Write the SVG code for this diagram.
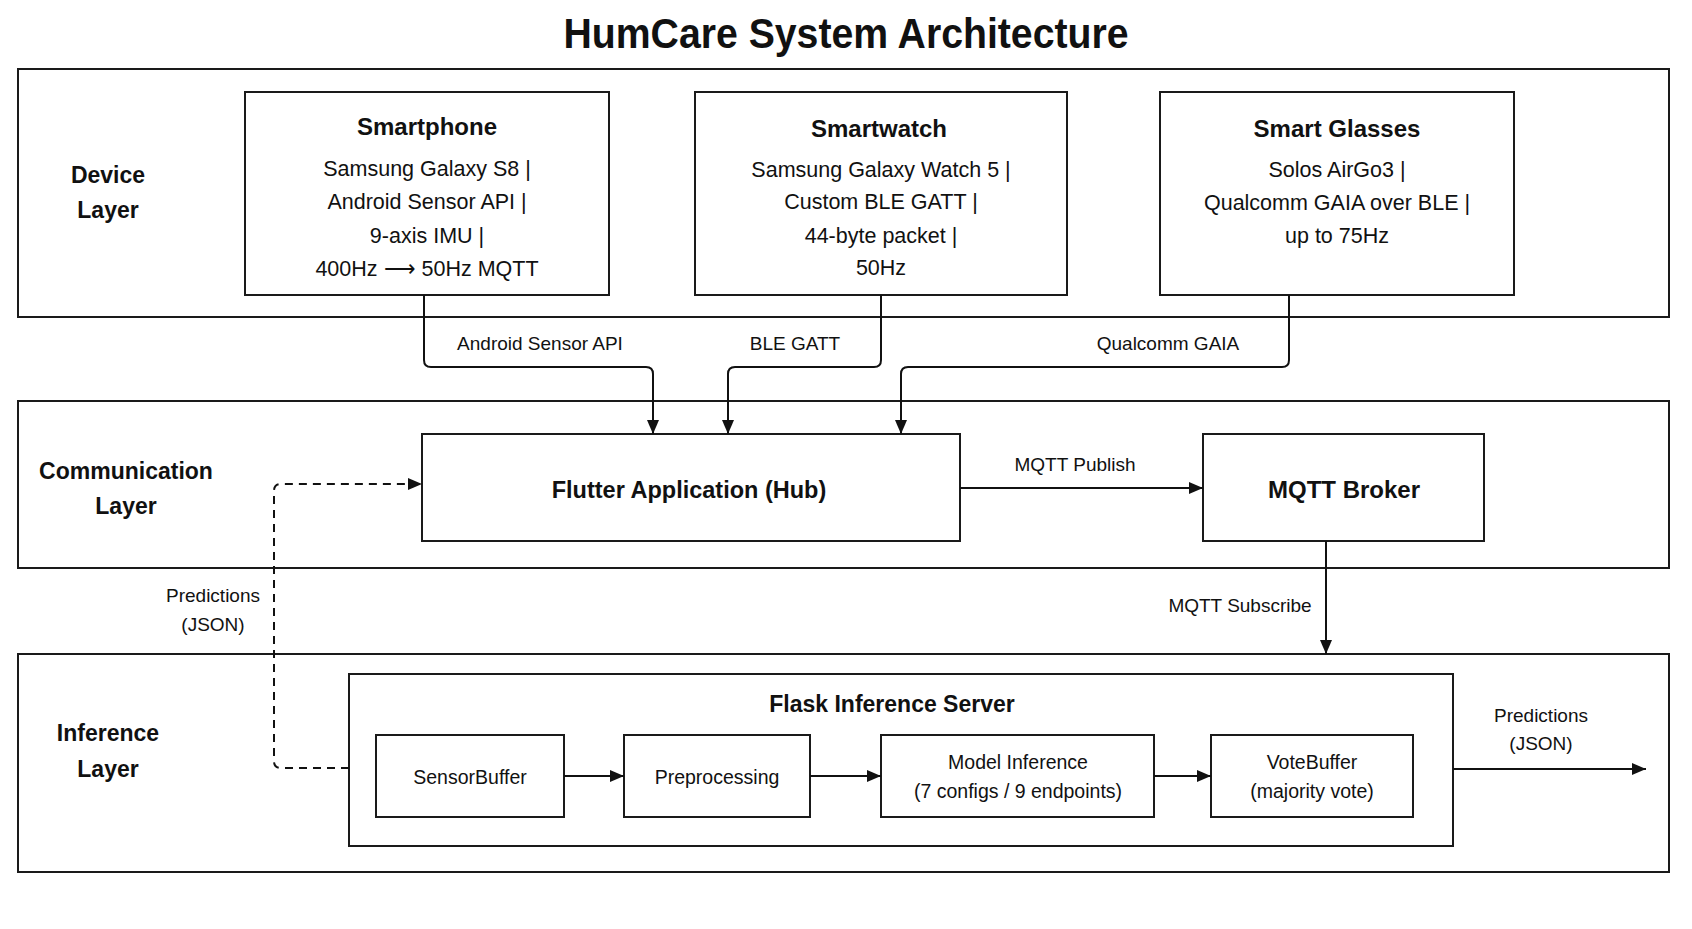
<svg xmlns="http://www.w3.org/2000/svg" width="1692" height="929" viewBox="0 0 1692 929">
<style>
.layer{fill:none;stroke:#1a1a1a;stroke-width:2}
.box{fill:#fff;stroke:#1a1a1a;stroke-width:2}
.t{font-family:"Liberation Sans",Arial,sans-serif;fill:#111;text-anchor:middle}
.b{font-weight:bold}
.conn{fill:none;stroke:#111;stroke-width:2}
.dash{stroke-dasharray:8 6}
</style>
<defs>
<marker id="ah" viewBox="0 0 14 12" refX="14" refY="6" markerWidth="14" markerHeight="12" markerUnits="userSpaceOnUse" orient="auto">
<path d="M0,0 L14,6 L0,12 z" fill="#111"/>
</marker>
</defs>
<rect width="1692" height="929" fill="#fff"/>
<text class="t b" x="846" y="48" font-size="42" textLength="565" lengthAdjust="spacingAndGlyphs">HumCare System Architecture</text>

<g id="device-layer">
<rect class="layer" x="18" y="69" width="1651" height="248"/>
<text class="t b" x="108" y="183" font-size="23">Device</text>
<text class="t b" x="108" y="218" font-size="23">Layer</text>
</g>
<g id="communication-layer">
<rect class="layer" x="18" y="401" width="1651" height="167"/>
<text class="t b" x="126" y="479" font-size="23">Communication</text>
<text class="t b" x="126" y="514" font-size="23">Layer</text>
</g>
<g id="inference-layer">
<rect class="layer" x="18" y="654" width="1651" height="218"/>
<text class="t b" x="108" y="741" font-size="23">Inference</text>
<text class="t b" x="108" y="777" font-size="23">Layer</text>
</g>

<g id="smartphone">
<rect class="box" x="245" y="92" width="364" height="203"/>
<text class="t b" x="427" y="135" font-size="24">Smartphone</text>
<text class="t" x="427" y="176" font-size="21.5">Samsung Galaxy S8 |</text>
<text class="t" x="427" y="209" font-size="21.5">Android Sensor API |</text>
<text class="t" x="427" y="243" font-size="21.5">9-axis IMU |</text>
<text class="t" x="427" y="276" font-size="21.5">400Hz ⟶ 50Hz MQTT</text>
</g>
<g id="smartwatch">
<rect class="box" x="695" y="92" width="372" height="203"/>
<text class="t b" x="879" y="137" font-size="24">Smartwatch</text>
<text class="t" x="881" y="177" font-size="21.5">Samsung Galaxy Watch 5 |</text>
<text class="t" x="881" y="209" font-size="21.5">Custom BLE GATT |</text>
<text class="t" x="881" y="243" font-size="21.5">44-byte packet |</text>
<text class="t" x="881" y="275" font-size="21.5">50Hz</text>
</g>
<g id="smart-glasses">
<rect class="box" x="1160" y="92" width="354" height="203"/>
<text class="t b" x="1337" y="137" font-size="24">Smart Glasses</text>
<text class="t" x="1337" y="177" font-size="21.5">Solos AirGo3 |</text>
<text class="t" x="1337" y="210" font-size="21.5">Qualcomm GAIA over BLE |</text>
<text class="t" x="1337" y="243" font-size="21.5">up to 75Hz</text>
</g>

<g id="flutter-app">
<rect class="box" x="422" y="434" width="538" height="107"/>
<text class="t b" x="689" y="498" font-size="23.5">Flutter Application (Hub)</text>
</g>
<g id="mqtt-broker">
<rect class="box" x="1203" y="434" width="281" height="107"/>
<text class="t b" x="1344" y="498" font-size="24">MQTT Broker</text>
</g>

<g id="flask-server">
<rect class="box" x="349" y="674" width="1104" height="172"/>
<text class="t b" x="892" y="712" font-size="23">Flask Inference Server</text>
</g>
<g id="sensor-buffer">
<rect class="box" x="376" y="735" width="188" height="82"/>
<text class="t" x="470" y="784" font-size="19.5">SensorBuffer</text>
</g>
<g id="preprocessing">
<rect class="box" x="624" y="735" width="186" height="82"/>
<text class="t" x="717" y="784" font-size="19.5">Preprocessing</text>
</g>
<g id="model-inference">
<rect class="box" x="881" y="735" width="273" height="82"/>
<text class="t" x="1018" y="769" font-size="19.5">Model Inference</text>
<text class="t" x="1018" y="798" font-size="19.5">(7 configs / 9 endpoints)</text>
</g>
<g id="vote-buffer">
<rect class="box" x="1211" y="735" width="202" height="82"/>
<text class="t" x="1312" y="769" font-size="19.5">VoteBuffer</text>
<text class="t" x="1312" y="798" font-size="19.5">(majority vote)</text>
</g>

<g id="connectors">
<path class="conn" d="M424,295 V360 Q424,367 431,367 H646 Q653,367 653,374 V434" marker-end="url(#ah)"/>
<path class="conn" d="M881,295 V360 Q881,367 874,367 H735 Q728,367 728,374 V434" marker-end="url(#ah)"/>
<path class="conn" d="M1289,295 V360 Q1289,367 1282,367 H908 Q901,367 901,374 V434" marker-end="url(#ah)"/>
<path class="conn" d="M960,488 H1203" marker-end="url(#ah)"/>
<path class="conn" d="M1326,541 V654" marker-end="url(#ah)"/>
<path class="conn dash" d="M349,768 H281 Q274,768 274,761 V491 Q274,484 281,484 H422" marker-end="url(#ah)"/>
<path class="conn" d="M564,776 H624" marker-end="url(#ah)"/>
<path class="conn" d="M810,776 H881" marker-end="url(#ah)"/>
<path class="conn" d="M1154,776 H1211" marker-end="url(#ah)"/>
<path class="conn" d="M1453,769 H1646" marker-end="url(#ah)"/>
<text class="t" x="540" y="350" font-size="19">Android Sensor API</text>
<text class="t" x="795" y="350" font-size="19">BLE GATT</text>
<text class="t" x="1168" y="350" font-size="19">Qualcomm GAIA</text>
<text class="t" x="1075" y="471" font-size="19">MQTT Publish</text>
<text class="t" x="1240" y="612" font-size="19">MQTT Subscribe</text>
<text class="t" x="213" y="602" font-size="19">Predictions</text>
<text class="t" x="213" y="631" font-size="19">(JSON)</text>
<text class="t" x="1541" y="722" font-size="19">Predictions</text>
<text class="t" x="1541" y="750" font-size="19">(JSON)</text>
</g>
</svg>
